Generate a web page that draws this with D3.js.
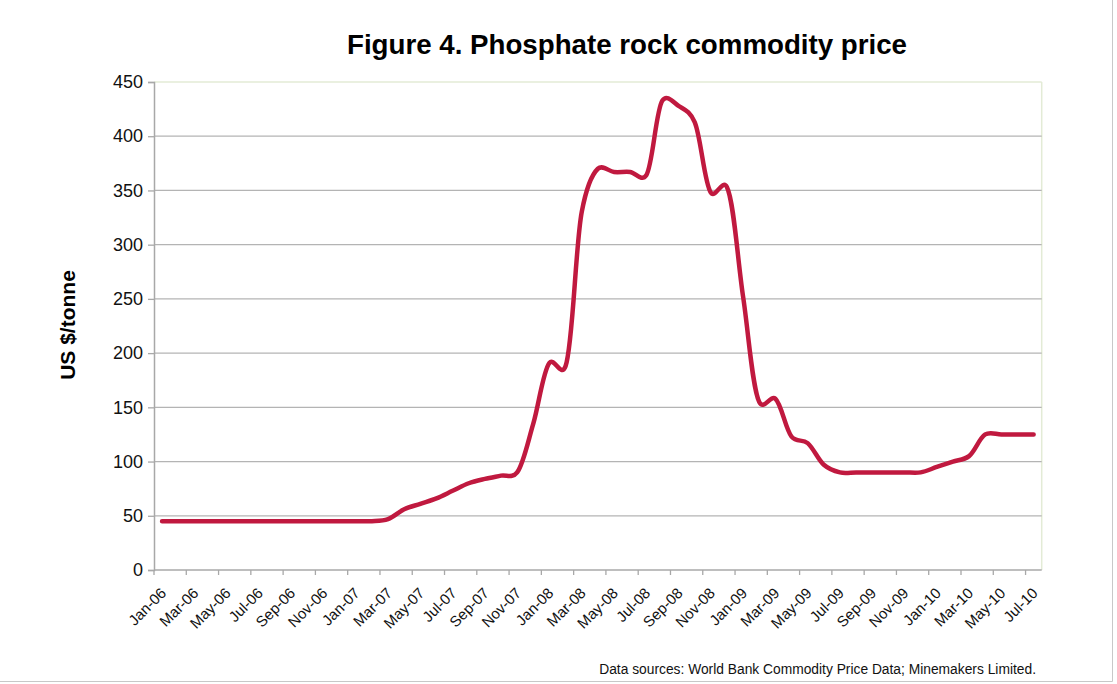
<!DOCTYPE html>
<html>
<head>
<meta charset="utf-8">
<script src="https://cdn.jsdelivr.net/npm/d3@7"></script>
<style>
  html, body { margin: 0; padding: 0; background: #fff; }
  svg { display: block; font-family: "Liberation Sans", Arial, Helvetica, sans-serif; }
</style>
</head>
<body>
<svg id="chart" width="1117" height="684"></svg>
<script>
// ---- data ----
const months = [
  "Jan-06","Feb-06","Mar-06","Apr-06","May-06","Jun-06","Jul-06","Aug-06","Sep-06","Oct-06","Nov-06","Dec-06",
  "Jan-07","Feb-07","Mar-07","Apr-07","May-07","Jun-07","Jul-07","Aug-07","Sep-07","Oct-07","Nov-07","Dec-07",
  "Jan-08","Feb-08","Mar-08","Apr-08","May-08","Jun-08","Jul-08","Aug-08","Sep-08","Oct-08","Nov-08","Dec-08",
  "Jan-09","Feb-09","Mar-09","Apr-09","May-09","Jun-09","Jul-09","Aug-09","Sep-09","Oct-09","Nov-09","Dec-09",
  "Jan-10","Feb-10","Mar-10","Apr-10","May-10","Jun-10","Jul-10"
];
const prices = [
  45, 45, 45, 45, 45, 45, 45, 45, 45, 45, 45, 45,
  45, 45, 47, 56, 61, 66, 73, 80, 84, 87, 90, 135,
  191, 188, 330, 370, 367, 367, 364, 433, 428, 413, 348, 353,
  252, 155, 158, 123, 117, 97, 90, 90, 90, 90, 90, 90,
  95, 100, 105, 125, 125, 125, 125
];
const yTicks = [0, 50, 100, 150, 200, 250, 300, 350, 400, 450];
const titleText = "Figure 4. Phosphate rock commodity price";
const yTitle = "US $/tonne";
const sourceText = "Data sources: World Bank Commodity Price Data; Minemakers Limited.";

// ---- layout ----
const svg = d3.select("#chart");
const L = 154, R = 1041.7, T = 82, B = 570;

const x = d3.scaleBand().domain(months).range([L, R]).padding(0);
const y = d3.scaleLinear().domain([0, 450]).range([B, T]);
const cx = m => x(m) + x.bandwidth() / 2;

// outer frame (right/bottom edges visible in reference)
svg.append("line").attr("x1", 1112.5).attr("x2", 1112.5).attr("y1", 0).attr("y2", 681.5)
  .attr("stroke", "#c8c8c8").attr("stroke-width", 1);
svg.append("line").attr("x1", 0).attr("x2", 1112.5).attr("y1", 681.5).attr("y2", 681.5)
  .attr("stroke", "#c8c8c8").attr("stroke-width", 1);

// plot border (light green, top and right)
svg.append("line").attr("x1", L).attr("x2", R).attr("y1", T).attr("y2", T)
  .attr("stroke", "#e3ebd6").attr("stroke-width", 1.5);
svg.append("line").attr("x1", R).attr("x2", R).attr("y1", T).attr("y2", B)
  .attr("stroke", "#e3ebd6").attr("stroke-width", 1.5);

// gridlines
svg.append("g").selectAll("line").data(yTicks.filter(d => d > 0 && d < 450)).join("line")
  .attr("x1", L).attr("x2", R)
  .attr("y1", d => y(d)).attr("y2", d => y(d))
  .attr("stroke", "#b4b4b4").attr("stroke-width", 1.3);

// y axis
const yAxis = svg.append("g").attr("transform", `translate(${L},0)`)
  .call(d3.axisLeft(y).tickValues(yTicks).tickSize(6).tickPadding(5).tickFormat(d3.format("d")));
yAxis.select(".domain").attr("stroke", "#a8a8a8").attr("stroke-width", 1.5);
yAxis.selectAll(".tick line").attr("stroke", "#a8a8a8").attr("stroke-width", 1.3);
yAxis.selectAll("text").attr("font-size", 18).attr("fill", "#111")
  .attr("font-family", "'Liberation Sans', Arial, sans-serif");

// x axis baseline
svg.append("line").attr("x1", L).attr("x2", R).attr("y1", B).attr("y2", B)
  .attr("stroke", "#a8a8a8").attr("stroke-width", 1.5);

// x ticks at category boundaries, every 2 categories
const tickCats = months.filter((m, i) => i % 2 === 0);
svg.append("g").selectAll("line").data(tickCats).join("line")
  .attr("x1", d => x(d)).attr("x2", d => x(d))
  .attr("y1", B).attr("y2", B + 5)
  .attr("stroke", "#a8a8a8").attr("stroke-width", 1.3);

// x labels rotated
svg.append("g").selectAll("text").data(tickCats).join("text")
  .attr("transform", d => `translate(${cx(d) + 5},${B + 24}) rotate(-45)`)
  .attr("text-anchor", "end")
  .attr("font-size", 15)
  .attr("fill", "#111")
  .text(d => d);

// line
const line = d3.line()
  .x((d, i) => cx(months[i]))
  .y(d => y(d))
  .curve(d3.curveCatmullRom.alpha(0.2));
svg.append("path").datum(prices)
  .attr("d", line)
  .attr("fill", "none")
  .attr("stroke", "#c0193f")
  .attr("stroke-width", 4.5)
  .attr("stroke-linejoin", "round")
  .attr("stroke-linecap", "round");

// title
svg.append("text").attr("x", 627).attr("y", 54)
  .attr("text-anchor", "middle").attr("font-size", 27.7).attr("font-weight", "bold")
  .attr("fill", "#000").text(titleText);

// y title
svg.append("text").attr("transform", "translate(75,325) rotate(-90)")
  .attr("text-anchor", "middle").attr("font-size", 21).attr("font-weight", "bold")
  .attr("fill", "#000").text(yTitle);

// source
svg.append("text").attr("x", 1036).attr("y", 674)
  .attr("text-anchor", "end").attr("font-size", 13.8)
  .attr("fill", "#111").text(sourceText);
</script>
</body>
</html>
